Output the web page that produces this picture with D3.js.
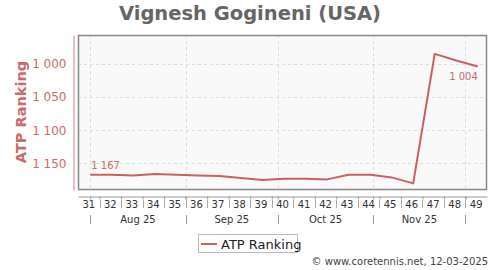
<!DOCTYPE html>
<html>
<head>
<meta charset="utf-8">
<script src="https://cdn.jsdelivr.net/npm/d3@7"></script>
<style>
  body { margin: 0; background: #fff; }
  svg { display: block; font-family: "DejaVu Sans", sans-serif; }
</style>
</head>
<body>
<div id="chart"></div>
<script>
// weekly ranking, one point per ISO week (Friday date)
const pointDates = ['2025-08-01', '2025-08-08', '2025-08-15', '2025-08-22', '2025-08-29',
                    '2025-09-05', '2025-09-12', '2025-09-19', '2025-09-26', '2025-10-03',
                    '2025-10-10', '2025-10-17', '2025-10-24', '2025-10-31', '2025-11-07',
                    '2025-11-14', '2025-11-21', '2025-11-28', '2025-12-05']
const ranking    = [1167, 1167, 1168, 1166, 1167, 1168, 1169, 1172, 1175, 1173,
                    1173, 1174, 1167, 1167, 1171, 1180, 985, 995, 1004]
const weekLabels = ['31', '32', '33', '34', '35', '36', '37', '38', '39', '40',
                    '41', '42', '43', '44', '45', '46', '47', '48', '49']
const monthStarts = ['2025-08-01', '2025-09-01', '2025-10-01', '2025-11-01', '2025-12-01']
const monthLabels = ['Aug 25', 'Sep 25', 'Oct 25', 'Nov 25']
const yTicks      = [1000, 1050, 1100, 1150]

const WIDTH  = 500
const HEIGHT = 270
const LINE_COLOR = '#cd5f5f'

const parse = d3.utcParse('%Y-%m-%d')
const fmt = d3.formatLocale({ decimal: '.', thousands: ' ', grouping: [3], currency: ['', ''] }).format(',d')

const points = pointDates.map((d, i) => ({ date: parse(d), value: ranking[i] }))
const months = monthStarts.map(parse)
const weekStarts = points.map(p => d3.utcMonday.floor(p.date))

const plot = { left: 78, right: 487, top: 35, bottom: 190 }

const x = d3.scaleUtc()
    .domain([parse('2025-07-28'), parse('2025-12-08')])
    .range([plot.left, plot.right])

const y = d3.scaleLinear()
    .domain([956.5, 1190])
    .range([plot.top, plot.bottom])

const svg = d3.select('#chart').append('svg')
    .attr('width', WIDTH)
    .attr('height', HEIGHT)

svg.append('text')
    .attr('x', 250)
    .attr('y', 20)
    .attr('text-anchor', 'middle')
    .attr('font-size', 19.5)
    .attr('font-weight', 'bold')
    .attr('fill', '#666')
    .text('Vignesh Gogineni (USA)')

// plot area
svg.append('rect')
    .attr('x', plot.left)
    .attr('y', plot.top)
    .attr('width', plot.right - plot.left)
    .attr('height', plot.bottom - plot.top)
    .attr('fill', '#f9f9f9')

svg.append('g')
    .selectAll('line')
    .data(yTicks)
    .join('line')
    .attr('x1', plot.left)
    .attr('x2', plot.right)
    .attr('y1', d => Math.round(y(d)) + 0.5)
    .attr('y2', d => Math.round(y(d)) + 0.5)
    .attr('stroke', '#dcdcdc')
    .attr('stroke-dasharray', '3,3')

svg.append('g')
    .selectAll('line')
    .data(months)
    .join('line')
    .attr('x1', d => Math.round(x(d)) + 0.5)
    .attr('x2', d => Math.round(x(d)) + 0.5)
    .attr('y1', plot.top)
    .attr('y2', plot.bottom)
    .attr('stroke', '#dcdcdc')
    .attr('stroke-dasharray', '3,3')

svg.append('rect')
    .attr('x', plot.left + 0.5)
    .attr('y', plot.top + 0.5)
    .attr('width', plot.right - plot.left - 1)
    .attr('height', plot.bottom - plot.top - 1)
    .attr('fill', 'none')
    .attr('stroke', '#888')
    .attr('stroke-width', 1.5)

// y axis
const yAxis = svg.append('g')
    .attr('transform', 'translate(73.5,0)')
    .call(d3.axisLeft(y).tickValues(yTicks).tickFormat(fmt).tickSize(0).tickPadding(7))

yAxis.select('.domain').attr('stroke', '#e2aaaa').attr('stroke-width', 1.5)
yAxis.selectAll('text')
    .attr('font-family', '"DejaVu Sans", sans-serif')
    .attr('font-size', 12)
    .attr('fill', '#cd6a6a')

svg.append('text')
    .attr('transform', 'translate(26,112) rotate(-90)')
    .attr('text-anchor', 'middle')
    .attr('font-size', 14.5)
    .attr('font-weight', 'bold')
    .attr('fill', '#cd6a6a')
    .text('ATP Ranking')

// x axis
const xAxis = svg.append('g')
    .attr('transform', 'translate(0,196.5)')
    .call(d3.axisBottom(x)
        .tickValues(weekStarts.slice(1).concat(months))
        .tickFormat('')
        .tickSize(3)
        .tickSizeOuter(0))

xAxis.select('.domain').attr('stroke', '#999')
xAxis.selectAll('.tick line').attr('stroke', '#999')

const weekCenter = d => d3.utcHour.offset(d, 84)

svg.append('g')
    .selectAll('text')
    .data(weekStarts)
    .join('text')
    .attr('x', d => x(weekCenter(d)))
    .attr('y', 208)
    .attr('text-anchor', 'middle')
    .attr('font-size', 10)
    .attr('fill', '#333')
    .text((d, i) => weekLabels[i])

svg.append('g')
    .selectAll('line')
    .data(weekStarts.slice(1))
    .join('line')
    .attr('x1', d => Math.round(x(d)) + 0.5)
    .attr('x2', d => Math.round(x(d)) + 0.5)
    .attr('y1', 200)
    .attr('y2', 208)
    .attr('stroke', '#aaa')

svg.append('g')
    .selectAll('text')
    .data(monthLabels)
    .join('text')
    .attr('x', (d, i) => (x(months[i]) + x(months[i + 1])) / 2)
    .attr('y', 223)
    .attr('text-anchor', 'middle')
    .attr('font-size', 10)
    .attr('fill', '#333')
    .text(d => d)

svg.append('g')
    .selectAll('line')
    .data(months)
    .join('line')
    .attr('x1', d => Math.round(x(d)) + 0.5)
    .attr('x2', d => Math.round(x(d)) + 0.5)
    .attr('y1', 215)
    .attr('y2', 224)
    .attr('stroke', '#999')

// ranking line
svg.append('path')
    .datum(points)
    .attr('fill', 'none')
    .attr('stroke', LINE_COLOR)
    .attr('stroke-width', 2)
    .attr('stroke-linejoin', 'round')
    .attr('d', d3.line().x(d => x(d.date)).y(d => y(d.value)))

const first = points[0]
const last  = points[points.length - 1]

svg.append('text')
    .attr('x', x(first.date) + 1)
    .attr('y', y(first.value) - 6)
    .attr('font-size', 10)
    .attr('fill', '#cd6a6a')
    .text(fmt(first.value))

svg.append('text')
    .attr('x', x(last.date))
    .attr('y', y(last.value) + 13)
    .attr('text-anchor', 'end')
    .attr('font-size', 10)
    .attr('fill', '#cd6a6a')
    .text(fmt(last.value))

// legend
const legend = svg.append('g').attr('transform', 'translate(198,234)')

legend.append('rect')
    .attr('x', 0.5)
    .attr('y', 0.5)
    .attr('width', 99)
    .attr('height', 18)
    .attr('fill', '#fff')
    .attr('stroke', '#bbb')

legend.append('line')
    .attr('x1', 3)
    .attr('x2', 19)
    .attr('y1', 10)
    .attr('y2', 10)
    .attr('stroke', LINE_COLOR)
    .attr('stroke-width', 2)

legend.append('text')
    .attr('x', 23)
    .attr('y', 15)
    .attr('font-size', 13)
    .attr('fill', '#222')
    .text('ATP Ranking')

svg.append('text')
    .attr('x', 488)
    .attr('y', 265)
    .attr('text-anchor', 'end')
    .attr('font-size', 10)
    .attr('fill', '#444')
    .text('© www.coretennis.net, 12-03-2025')
</script>
</body>
</html>
